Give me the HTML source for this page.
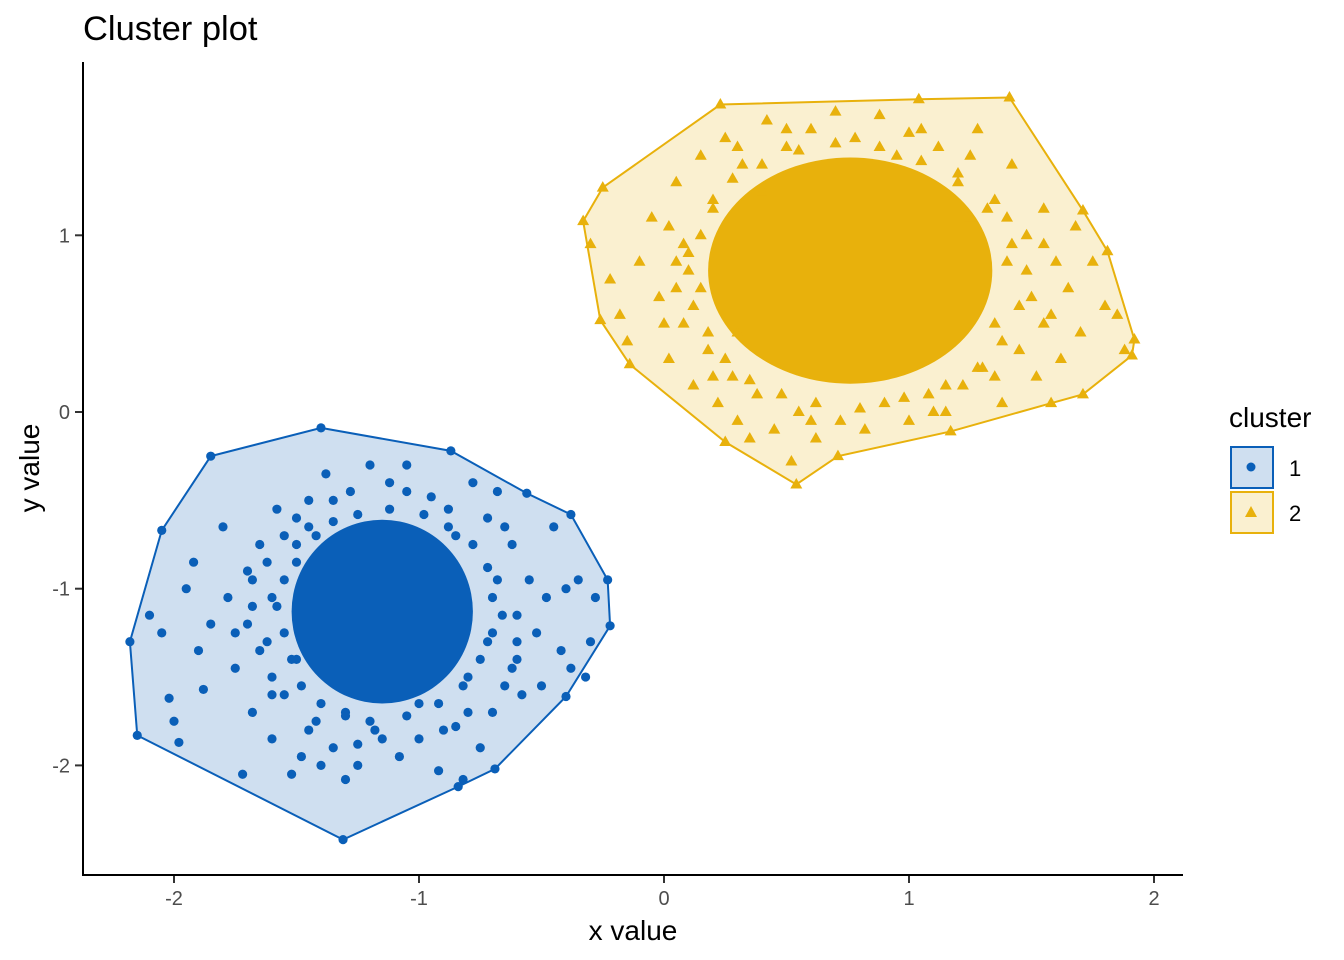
<!DOCTYPE html>
<html><head><meta charset="utf-8"><style>
html,body{margin:0;padding:0;background:#fff;}
svg{display:block;font-family:"Liberation Sans",Arial,sans-serif;}
</style></head><body>
<svg id="chart" width="1344" height="960" viewBox="0 0 1344 960" xmlns="http://www.w3.org/2000/svg">
<text x="83" y="40" font-size="34.5" fill="#000">Cluster plot</text>
<g id="plot"></g>
<line x1="83" y1="62" x2="83" y2="876" stroke="#000" stroke-width="2"/>
<line x1="82" y1="875" x2="1183" y2="875" stroke="#000" stroke-width="2"/>
<g id="xticks"></g>
<g id="yticks"></g>
<text x="633" y="940" font-size="28" text-anchor="middle">x value</text>
<text x="0" y="0" font-size="28" text-anchor="middle" transform="translate(39,468) rotate(-90)">y value</text>
<g>
<text x="1229" y="427" font-size="28">cluster</text>
<g>
<rect x="1231" y="447" width="42" height="41" fill="#cfdff0" stroke="#0a5fb8" stroke-width="2"/>
<circle cx="1251" cy="467" r="4.5" fill="#0a5fb8"/>
<text x="1289" y="476" font-size="22">1</text></g>
<g>
<rect x="1231" y="492" width="42" height="41" fill="#faf0d0" stroke="#e8b10c" stroke-width="2"/>
<path d="M1251,506 L1257,517 L1245,517 Z" fill="#e8b10c"/>
<text x="1289" y="521" font-size="22">2</text></g>
</g>
</svg>
<script>
const xTicks=[-2,-1,0,1,2];
const yTicks=[1,0,-1,-2];
const hull1=[[-1.40,-0.09],[-0.87,-0.22],[-0.56,-0.46],[-0.38,-0.58],[-0.23,-0.95],[-0.22,-1.21],[-0.40,-1.61],[-0.69,-2.02],[-0.84,-2.12],[-1.31,-2.42],[-2.15,-1.83],[-2.18,-1.30],[-2.05,-0.67],[-1.85,-0.25]];
const hull2=[[0.23,1.74],[1.04,1.77],[1.41,1.78],[1.71,1.14],[1.81,0.91],[1.92,0.41],[1.91,0.32],[1.71,0.10],[1.58,0.05],[1.17,-0.11],[0.71,-0.25],[0.54,-0.41],[0.25,-0.17],[-0.14,0.27],[-0.26,0.52],[-0.33,1.08],[-0.25,1.27]];
const core1=[[-1.15,-1.13,0.37,0.52]];
const core2=[[0.76,0.80,0.58,0.64]];
const pts1=[[-2.10,-1.15],[-2.05,-1.25],[-2.02,-1.62],[-2.00,-1.75],[-1.98,-1.87],[-1.90,-1.35],[-1.88,-1.57],[-1.85,-1.20],[-1.80,-0.65],[-1.78,-1.05],[-1.75,-1.45],[-1.72,-2.05],[-1.70,-0.90],[-1.68,-1.70],[-1.65,-0.75],[-1.62,-1.30],[-1.60,-1.85],[-1.58,-0.55],[-1.55,-1.60],[-1.52,-2.05],[-1.50,-0.85],[-1.48,-1.95],[-1.45,-0.50],[-1.42,-1.75],[-1.40,-2.00],[-1.38,-0.35],[-1.35,-1.90],[-1.30,-2.08],[-1.28,-0.45],[-1.25,-2.00],[-1.20,-0.30],[-1.18,-1.80],[-1.12,-0.40],[-1.08,-1.95],[-1.05,-0.30],[-1.00,-1.85],[-0.95,-0.48],[-0.92,-2.03],[-0.88,-0.55],[-0.85,-1.78],[-0.82,-2.08],[-0.78,-0.40],[-0.75,-1.90],[-0.72,-0.60],[-0.70,-1.70],[-0.68,-0.45],[-0.65,-1.55],[-0.62,-0.75],[-0.60,-1.40],[-0.58,-1.60],[-0.55,-0.95],[-0.52,-1.25],[-0.50,-1.55],[-0.48,-1.05],[-0.45,-0.65],[-0.42,-1.35],[-0.40,-1.00],[-0.38,-1.45],[-0.35,-0.95],[-0.32,-1.50],[-0.30,-1.30],[-0.28,-1.05],[-1.95,-1.00],[-1.92,-0.85],[-1.68,-1.10],[-1.60,-1.50],[-1.55,-0.70],[-0.68,-0.95],[-0.72,-1.30],[-0.80,-1.50],[-1.50,-1.40],[-1.45,-0.65],[-0.85,-0.70],[-1.00,-1.65],[-1.30,-1.70],[-1.60,-1.05],[-1.75,-1.25],[-0.60,-1.15]];
const mid1=[[-1.55,-0.95],[-1.58,-1.10],[-1.55,-1.25],[-1.52,-1.40],[-1.50,-0.75],[-1.48,-1.55],[-1.42,-0.70],[-1.40,-1.65],[-1.35,-0.62],[-1.30,-1.72],[-1.25,-0.58],[-1.20,-1.75],[-1.12,-0.55],[-1.05,-1.72],[-0.98,-0.58],[-0.92,-1.65],[-0.88,-0.65],[-0.82,-1.55],[-0.78,-0.75],[-0.75,-1.40],[-0.72,-0.88],[-0.70,-1.25],[-0.70,-1.05],[-0.66,-1.15],[-1.62,-0.85],[-1.65,-1.35],[-1.60,-1.60],[-1.45,-1.80],[-1.15,-1.85],[-0.90,-1.80],[-0.65,-0.65],[-0.60,-1.30],[-1.05,-0.45],[-1.35,-0.50],[-1.70,-1.20],[-1.68,-0.95],[-0.62,-1.45],[-0.80,-1.70],[-1.25,-1.88],[-1.50,-0.60]];
const pts2=[[-0.30,0.95],[-0.22,0.75],[-0.18,0.55],[-0.15,0.40],[-0.10,0.85],[-0.05,1.10],[-0.02,0.65],[0.02,0.30],[0.05,1.30],[0.08,0.50],[0.10,0.90],[0.12,0.15],[0.15,1.45],[0.18,0.35],[0.20,1.15],[0.22,0.05],[0.25,1.55],[0.28,0.20],[0.30,-0.05],[0.32,1.40],[0.35,-0.15],[0.38,0.10],[0.42,1.65],[0.45,-0.10],[0.50,1.50],[0.52,-0.28],[0.55,0.00],[0.60,1.60],[0.62,-0.15],[0.70,1.70],[0.72,-0.05],[0.78,1.55],[0.82,-0.10],[0.88,1.68],[0.90,0.05],[0.95,1.45],[1.00,-0.05],[1.05,1.60],[1.08,0.10],[1.12,1.50],[1.15,0.00],[1.20,1.35],[1.22,0.15],[1.28,1.60],[1.30,0.25],[1.35,1.20],[1.38,0.05],[1.42,1.40],[1.45,0.35],[1.48,1.00],[1.52,0.20],[1.55,1.15],[1.58,0.55],[1.60,0.85],[1.62,0.30],[1.65,0.70],[1.68,1.05],[1.70,0.45],[1.75,0.85],[1.80,0.60],[1.85,0.55],[1.88,0.35],[1.50,0.65],[1.40,0.85],[0.15,0.70],[0.05,0.85],[0.30,0.45],[0.40,1.25],[1.25,1.10],[1.35,0.50]];
const mid2=[[0.10,0.80],[0.12,0.60],[0.15,1.00],[0.18,0.45],[0.20,1.20],[0.25,0.30],[0.28,1.32],[0.35,0.18],[0.40,1.40],[0.48,0.10],[0.55,1.48],[0.62,0.05],[0.70,1.52],[0.80,0.02],[0.88,1.50],[0.98,0.08],[1.05,1.42],[1.15,0.15],[1.20,1.30],[1.28,0.25],[1.32,1.15],[1.38,0.40],[1.42,0.95],[1.45,0.60],[1.48,0.80],[1.40,1.10],[0.05,0.70],[0.08,0.95],[0.30,1.50],[0.50,1.60],[1.00,1.58],[1.25,1.45],[1.55,0.50],[1.55,0.95],[0.20,0.20],[0.60,-0.05],[1.10,0.00],[1.35,0.20],[0.00,0.50],[0.02,1.05]];

const NS='http://www.w3.org/2000/svg';
const sx=v=>664+245*v, sy=v=>412-176.7*v;
const plot=document.getElementById('plot');
function mk(tag,attrs,parent){const e=document.createElementNS(NS,tag);for(const k in attrs)e.setAttribute(k,attrs[k]);parent.appendChild(e);return e;}
function drawHull(h,fill,stroke,name){
  const p=mk('polygon',{points:h.map(d=>sx(d[0])+','+sy(d[1])).join(' '),fill:fill,stroke:stroke,'stroke-width':2},plot);
  
  
}
drawHull(hull1,'#cfdff0','#0a5fb8','hull-cluster-1');
drawHull(hull2,'#faf0d0','#e8b10c','hull-cluster-2');
function drawCore(c,col,name){c.forEach(d=>{
  const e=mk('ellipse',{cx:sx(d[0]),cy:sy(d[1]),rx:245*d[2],ry:176.7*d[3],fill:col},plot);
  
  
});}
drawCore(core1,'#0a5fb8','core-cluster-1');
drawCore(core2,'#e8b10c','core-cluster-2');
pts1.concat(mid1,hull1).forEach(d=>{
  const c=mk('circle',{cx:sx(d[0]),cy:sy(d[1]),r:4.6,fill:'#0a5fb8'},plot);
  
  
});
pts2.concat(mid2,hull2).forEach(d=>{
  const x=sx(d[0]),y=sy(d[1]);
  const t=mk('path',{d:`M${x},${y-6.5} L${x+6},${y+4} L${x-6},${y+4} Z`,fill:'#e8b10c'},plot);
  
  
});
const xt=document.getElementById('xticks'),yt=document.getElementById('yticks');
xTicks.forEach(v=>{
  const l=mk('line',{x1:sx(v),x2:sx(v),y1:876,y2:883,stroke:'#333','stroke-width':2},xt);
  
  
  const t=mk('text',{x:sx(v),y:905,'font-size':20,'text-anchor':'middle',fill:'#4d4d4d'},xt);
  t.textContent=v;
  
  
});
yTicks.forEach(v=>{
  const l=mk('line',{x1:75,x2:82,y1:sy(v),y2:sy(v),stroke:'#333','stroke-width':2},yt);
  
  
  const t=mk('text',{x:70,y:sy(v)+7,'font-size':20,'text-anchor':'end',fill:'#4d4d4d'},yt);
  t.textContent=v;
  
  
});
</script>
</body></html>
